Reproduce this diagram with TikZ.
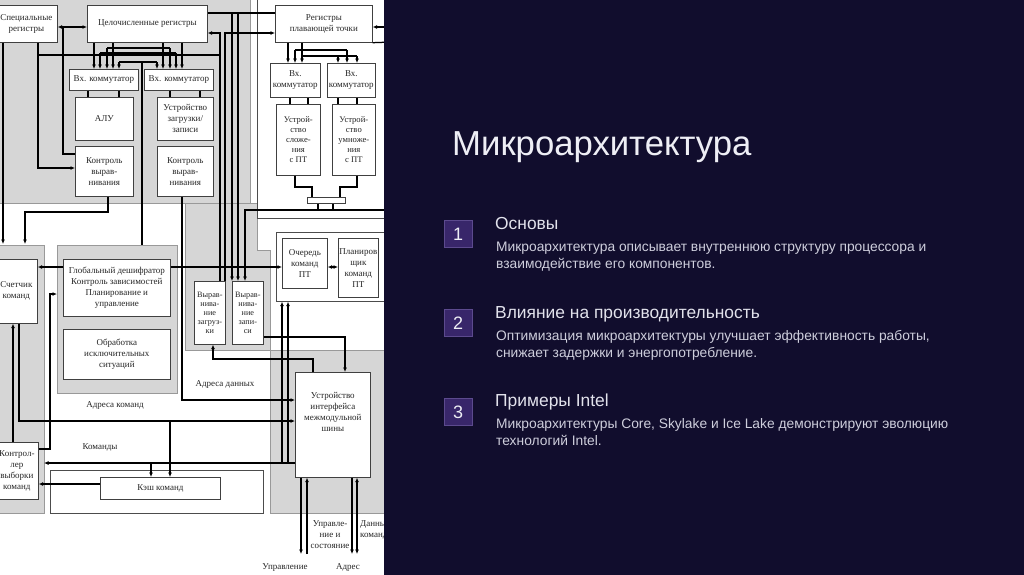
\documentclass[tikz,border=0pt]{standalone}
\usepackage{fontspec}
\setmainfont{Liberation Sans}
\newfontfamily\serf{Liberation Serif}
\usetikzlibrary{arrows.meta}
\definecolor{dgray}{RGB}{214,214,214}
\definecolor{bgdark}{RGB}{17,13,45}
\definecolor{sqfill}{RGB}{56,38,106}
\definecolor{sqdraw}{RGB}{92,74,142}
\definecolor{ttl}{RGB}{238,238,245}
\definecolor{hd}{RGB}{226,226,236}
\definecolor{ds}{RGB}{206,206,220}
\newcommand\dgA{\serf\fontsize{9}{11}\selectfont}
\newcommand\dgB{\serf\fontsize{8.6}{10}\selectfont}
\newcommand\dgC{\serf\fontsize{8.2}{9}\selectfont}
\tikzset{
  grreg/.style={fill=dgray, draw=gray!80, line width=0.5pt},
  frm/.style={fill=white, draw=black!70, line width=0.7pt, anchor=north west, inner sep=0pt},
  bx/.style={draw=black!75, fill=white, line width=0.7pt, anchor=north west, align=center, font=\dgA, inner sep=0pt, text=black!85},
  ln/.style={line width=1.25pt, black},
  ar/.style={ln, -{Latex[length=4.5pt,width=4pt]}},
  dar/.style={ln, {Latex[length=4.5pt,width=4pt]}-{Latex[length=4.5pt,width=4pt]}},
  lbl/.style={font=\dgA, align=center, inner sep=0pt, text=black!85},
  numbox/.style={draw=sqdraw, fill=sqfill, line width=0.8pt, minimum width=28pt, minimum height=27pt, text=ttl, font=\fontsize{18}{20}\selectfont, inner sep=0pt},
  head/.style={anchor=base west, text=hd, font=\fontsize{17.4}{20}\selectfont, inner sep=0pt},
  desc/.style={anchor=base west, text=ds, font=\fontsize{13.8}{16}\selectfont, inner sep=0pt},
}
\begin{document}
\begin{tikzpicture}[x=1pt,y=-1pt]
\useasboundingbox (0,0) rectangle (1024,574);
\clip (0,0) rectangle (1024,574);
\fill[white] (0,0) rectangle (1024,574);

% ---------- grey regions and frames
\path[grreg] (-2,-2) rectangle (250,203);
\path[grreg] (185,203) -- (257,203) -- (257,250) -- (270,250) -- (270,350) -- (185,350) -- cycle;
\path[grreg] (-2,245) rectangle (44,513);
\path[grreg] (57,245) rectangle (177,393);
\path[grreg] (270,350) rectangle (392,513);
\node[frm, minimum width=135pt, minimum height=220pt] (fpfr) at (257,-2) {};
\node[frm, minimum width=116pt, minimum height=69pt] (qfr) at (276,232) {};
\node[frm, minimum width=213pt, minimum height=43pt] (cfr) at (50,470) {};

% ---------- boxes
\node[bx, minimum width=62pt, minimum height=37pt] (spec) at (-5,5) {Специальные\\регистры};
\node[bx, minimum width=120pt, minimum height=37pt] (intreg) at (87,5) {Целочисленные регистры};
\node[bx, minimum width=69pt, minimum height=21pt] (vk1) at (69,69) {Вх. коммутатор};
\node[bx, minimum width=69pt, minimum height=21pt] (vk2) at (144,69) {Вх. коммутатор};
\node[bx, minimum width=58pt, minimum height=43pt] (alu) at (75,97) {АЛУ};
\node[bx, minimum width=56pt, minimum height=43pt] (ldst) at (157,97) {Устройство\\загрузки/\\записи};
\node[bx, minimum width=58pt, minimum height=50pt] (kv1) at (75,146) {Контроль\\вырав-\\нивания};
\node[bx, minimum width=56pt, minimum height=50pt] (kv2) at (157,146) {Контроль\\вырав-\\нивания};
\node[bx, minimum width=97pt, minimum height=37pt] (fpreg) at (275,5) {Регистры\\плавающей точки};
\node[bx, minimum width=50pt, minimum height=34pt] (fvk1) at (270,63) {Вх.\\коммутатор};
\node[bx, minimum width=48pt, minimum height=34pt] (fvk2) at (327,63) {Вх.\\коммутатор};
\node[bx, font=\dgB, minimum width=44pt, minimum height=71pt] (fadd) at (276,104) {Устрой-\\ство\\сложе-\\ния\\с ПТ};
\node[bx, font=\dgB, minimum width=43pt, minimum height=71pt] (fmul) at (332,104) {Устрой-\\ство\\умноже-\\ния\\с ПТ};
\node[bx, minimum width=38pt, minimum height=6pt] (fsm) at (307,197) {};
\node[bx, minimum width=42pt, minimum height=64pt] (cnt) at (-5,259) {Счетчик\\команд};
\node[bx, minimum width=107pt, minimum height=57pt] (glob) at (63,259) {Глобальный дешифратор\\Контроль зависимостей\\Планирование и\\управление};
\node[bx, minimum width=107pt, minimum height=50pt] (exc) at (63,329) {Обработка\\исключительных\\ситуаций};
\node[bx, font=\dgC, minimum width=31pt, minimum height=63pt] (vzag) at (194,281) {Вырав-\\нива-\\ние\\загруз-\\ки};
\node[bx, font=\dgC, minimum width=31pt, minimum height=63pt] (vzap) at (232,281) {Вырав-\\нива-\\ние\\запи-\\си};
\node[bx, minimum width=45pt, minimum height=50pt] (queue) at (282,238) {Очередь\\команд\\ПТ};
\node[bx, minimum width=40pt, minimum height=59pt] (sched) at (338,238) {Планиров\\щик\\команд\\ПТ};
\node[bx, minimum width=75pt, minimum height=105pt] (bus) at (295,372) {};
\node[lbl, anchor=north] (bustxt) at ([yshift=-20pt]bus.north) {Устройство\\интерфейса\\межмодульной\\шины};
\node[bx, minimum width=43pt, minimum height=57pt] (ctrl) at (-5,442) {Контрол-\\лер\\выборки\\команд};
\node[bx, minimum width=120pt, minimum height=22pt] (cache) at (100,477) {Кэш команд};

% ---------- connectors, integer part
\draw[dar] (spec.east |- 0,27) -- (intreg.west |- 0,27);
\draw[ln] (63,27) -- (63,154) -- (kv1.west |- 0,154);
\draw[ar] (spec.south -| 38,0) -- (38,168) -- (kv1.west |- 0,168);
\draw[ln] (37,55) -- (220,55);
\draw[ar] (vzag.north -| 220,0) -- (220,33) -- (intreg.east |- 0,33);
\draw[ar] (vzag.north -| 225,0) -- (225,33) -- (fpreg.west |- 0,33);
\draw[ln] (intreg.east |- 0,13) -- (fpreg.west |- 0,13);
\draw[ar] (238,13) -- (vzap.north -| 238,0);
\draw[ar] (232,13) -- (vzap.north -| 232,0);
\draw[ar] (intreg.south -| 94,0) -- (vk1.north -| 94,0);
\draw[ar] (intreg.south -| 113,0) -- (vk1.north -| 113,0);
\draw[ar] (intreg.south -| 163,0) -- (vk2.north -| 163,0);
\draw[ar] (intreg.south -| 182,0) -- (vk2.north -| 182,0);
\draw[ln] (107,48) -- (170,48);
\draw[ar] (107,48) -- (vk1.north -| 107,0);
\draw[ar] (170,48) -- (vk2.north -| 170,0);
\draw[ln] (100,53) -- (176,53);
\draw[ar] (100,53) -- (vk1.north -| 100,0);
\draw[ar] (176,53) -- (vk2.north -| 176,0);
\draw[ln] (119,62) -- (157,62);
\draw[ar] (119,62) -- (vk1.north -| 119,0);
\draw[ar] (157,62) -- (vk2.north -| 157,0);
\draw[ln] (142,62) -- (142,245);
\draw[ln] (vk1.south -| 88,0) -- (alu.north -| 88,0);
\draw[ln] (vk1.south -| 119,0) -- (alu.north -| 119,0);
\draw[ln] (vk2.south -| 170,0) -- (ldst.north -| 170,0);
\draw[ln] (vk2.south -| 200,0) -- (ldst.north -| 200,0);
\draw[ar] (kv1.south -| 108,0) -- (108,212) -- (25,212) -- (25,244);
\draw[ar] (spec.south -| 3,0) -- (3,244);
\draw[ar] (kv2.south -| 182,0) -- (182,400) -- (bus.west |- 0,400);

% ---------- floating point part
\draw[ar] (fpreg.south -| 288,0) -- (fvk1.north -| 288,0);
\draw[ar] (fpreg.south -| 302,0) -- (fvk1.north -| 302,0);
\draw[ln] (295,50) -- (347,50);
\draw[ar] (295,50) -- (fvk1.north -| 295,0);
\draw[ar] (347,50) -- (fvk2.north -| 347,0);
\draw[ln] (302,56) -- (357,56);
\draw[ar] (338,56) -- (fvk2.north -| 338,0);
\draw[ar] (357,56) -- (fvk2.north -| 357,0);
\draw[ln] (fvk1.south -| 290,0) -- (fadd.north -| 290,0);
\draw[ln] (fvk1.south -| 308,0) -- (fadd.north -| 308,0);
\draw[ln] (fvk2.south -| 338,0) -- (fmul.north -| 338,0);
\draw[ln] (fvk2.south -| 357,0) -- (fmul.north -| 357,0);
\draw[ln] (fadd.south -| 295,0) -- (295,187) -- (312,187) -- (fsm.north -| 312,0);
\draw[ln] (fmul.south -| 357,0) -- (357,187) -- (340,187) -- (fsm.north -| 340,0);
\draw[ln] (fsm.south -| 318,0) -- (318,210);
\draw[ln] (fsm.south -| 333,0) -- (333,210);
\draw[ar] (392,210) -- (245,210) -- (vzap.north -| 245,0);
\draw[ar] (392,27) -- (fpreg.east |- 0,27);
\draw[ln] (fpreg.south east) -- (392,42);

% ---------- lower part
\draw[ar] (glob.west |- 0,267) -- (cnt.east |- 0,267);
\draw[ar] (glob.east |- 0,267) -- (queue.west |- 0,267);
\draw[dar] (queue.east |- 0,267) -- (sched.west |- 0,267);
\draw[ar] (ctrl.east |- 0,449) -- (50,449) -- (50,294) -- (57,294);
\draw[ar] (ctrl.north -| 13,0) -- (cnt.south -| 13,0);
\draw[ar] (cnt.south -| 19,0) -- (19,421) -- (bus.west |- 0,421);
\draw[ar] (170,421) -- (cache.north -| 170,0);
\draw[ar] (bus.west |- 0,463) -- (44,463);
\draw[ar] (151,463) -- (cache.north -| 151,0);
\draw[ar] (cache.west |- 0,484) -- (ctrl.east |- 0,484);
\draw[ar] (vzap.east |- 0,337) -- (345,337) -- (bus.north -| 345,0);
\draw[ar] (bus.north -| 313,0) -- (313,359) -- (213,359) -- (vzag.south -| 213,0);
\draw[ar] (282,463) -- (qfr.south -| 282,0);
\draw[ar] (288,463) -- (qfr.south -| 288,0);
\draw[ar] (bus.south -| 301,0) -- (301,554);
\draw[ar] (307,554) -- (bus.south -| 307,0);
\draw[ar] (bus.south -| 352,0) -- (352,554);
\draw[dar] (357,554) -- (bus.south -| 357,0);

% ---------- labels
\node[lbl] (lad) at (225,384) {Адреса данных};
\node[lbl] (lac) at (115,405) {Адреса команд};
\node[lbl] (lcm) at (100,447) {Команды};
\node[lbl] (lus) at (330,535) {Управле-\\ние и\\состояние};
\node[lbl, anchor=west, align=left] (ldc) at (360,530) {Данные\\команд};
\node[lbl] (lup) at (285,567) {Управление};
\node[lbl] (lad2) at (348,567) {Адрес};

% ---------- right slide panel
\fill[bgdark] (384,-2) rectangle (1026,576);
\node[anchor=base west, text=ttl, font=\fontsize{34.7}{40}\selectfont, inner sep=0pt] (title) at (452,155) {Микроархитектура};

\node[numbox] (n1) at (458,234) {1};
\node[numbox] (n2) at (458,323) {2};
\node[numbox] (n3) at (458,412) {3};

\node[head] (h1) at (495,229) {Основы};
\node[desc] (d1a) at (496,251) {Микроархитектура описывает внутреннюю структуру процессора и};
\node[desc] (d1b) at (496,268) {взаимодействие его компонентов.};

\node[head] (h2) at (495,318) {Влияние на производительность};
\node[desc] (d2a) at (496,340) {Оптимизация микроархитектуры улучшает эффективность работы,};
\node[desc] (d2b) at (496,357) {снижает задержки и энергопотребление.};

\node[head] (h3) at (495,406) {Примеры Intel};
\node[desc] (d3a) at (496,428) {Микроархитектуры Core, Skylake и Ice Lake демонстрируют эволюцию};
\node[desc] (d3b) at (496,445) {технологий Intel.};
\end{tikzpicture}
\end{document}
